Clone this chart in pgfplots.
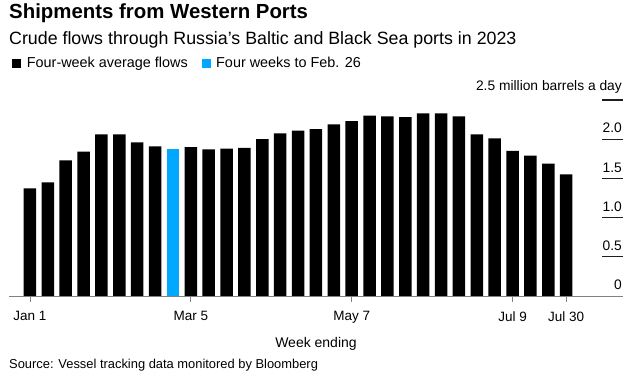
\documentclass[border=0pt]{standalone}
\usepackage{fontspec}
\setmainfont{Liberation Sans}
\usepackage{pgfplots}
\pgfplotsset{compat=1.18}
\definecolor{bbblue}{RGB}{0,168,255}
\definecolor{gridc}{RGB}{30,30,30}
\definecolor{basec}{RGB}{130,130,130}
\begin{document}
\begin{tikzpicture}[x=1pt,y=1pt]
\path[use as bounding box] (0,0) rectangle (638,375);
\begin{axis}[
  at={(9pt,79pt)}, anchor=south west,
  scale only axis, width=614pt, height=196pt,
  xmin=-1.175, xmax=33.18, ymin=0, ymax=2.5,
  axis y line*=right, axis x line*=bottom,
  y axis line style={opacity=0},
  x axis line style={draw=basec, line width=0.8pt, -},
  xtick={0,9,18,27,30},
  xticklabels={Jan 1,Mar 5,May 7,Jul 9,Jul 30},
  x tick style={draw=basec, line width=0.8pt},
  xtick align=outside,
  major tick length=6pt,
  ytick={0,0.5,1,1.5,2,2.5},
  yticklabels={0,0.5,1.0,1.5,2.0,2.5 million barrels a day},
  y tick style={opacity=0},
  yticklabel style={anchor=south east, yshift=5pt, xshift=0pt, inner sep=1pt, font=\fontsize{13.8}{15}\selectfont},
  xticklabel style={font=\fontsize{13.5}{15}\selectfont, yshift=-6pt},
  xlabel={Week ending},
  xlabel style={font=\fontsize{14}{16}\selectfont, yshift=-7pt},
  /pgf/number format/assume math mode=true,
  clip=false,
]
\addplot[ybar, bar width=12.5pt, fill=black, draw=none, bar shift=0pt] coordinates {
(0,1.374) (1,1.45) (2,1.73) (3,1.84) (4,2.06) (5,2.06) (6,1.96) (7,1.91)
(9,1.90) (10,1.87) (11,1.88) (12,1.89) (13,2.00) (14,2.075) (15,2.11)
(16,2.13) (17,2.19) (18,2.23) (19,2.30) (20,2.29) (21,2.28) (22,2.33)
(23,2.33) (24,2.29) (25,2.06) (26,2.01) (27,1.85) (28,1.79) (29,1.69) (30,1.55)
};
\addplot[ybar, bar width=12.5pt, fill=bbblue, draw=none, bar shift=0pt] coordinates {(8,1.88)};
\addplot[fill=gridc, draw=none, mark=none] coordinates {(32.0,0.492) (33.18,0.492) (33.18,0.508) (32.0,0.508)};
\addplot[fill=gridc, draw=none, mark=none] coordinates {(32.0,0.992) (33.18,0.992) (33.18,1.008) (32.0,1.008)};
\addplot[fill=gridc, draw=none, mark=none] coordinates {(32.0,1.492) (33.18,1.492) (33.18,1.508) (32.0,1.508)};
\addplot[fill=gridc, draw=none, mark=none] coordinates {(32.0,1.992) (33.18,1.992) (33.18,2.008) (32.0,2.008)};
\addplot[fill=gridc, draw=none, mark=none] coordinates {(32.0,2.492) (33.18,2.492) (33.18,2.508) (32.0,2.508)};
\end{axis}
\node[anchor=base west, inner sep=0, font=\fontsize{20.4}{22}\selectfont\bfseries] at (9,356) {Shipments from Western Ports};
\node[anchor=base west, inner sep=0, font=\fontsize{17.8}{20}\selectfont] at (9,330.7) {Crude flows through Russia's Baltic and Black Sea ports in 2023};
\fill[black] (12,307.3) rectangle (21,316.3);
\node[anchor=base west, inner sep=0, font=\fontsize{14.4}{16}\selectfont] at (26.7,307.3) {Four-week average flows};
\fill[bbblue] (201.7,307.3) rectangle (210.7,316.3);
\node[anchor=base west, inner sep=0, font=\fontsize{14.4}{16}\selectfont] at (216,307.3) {Four weeks to Feb. 26};
\node[anchor=base west, inner sep=0, font=\fontsize{12.9}{14}\selectfont] at (9,6.7) {Source: Vessel tracking data monitored by Bloomberg};
\end{tikzpicture}
\end{document}
